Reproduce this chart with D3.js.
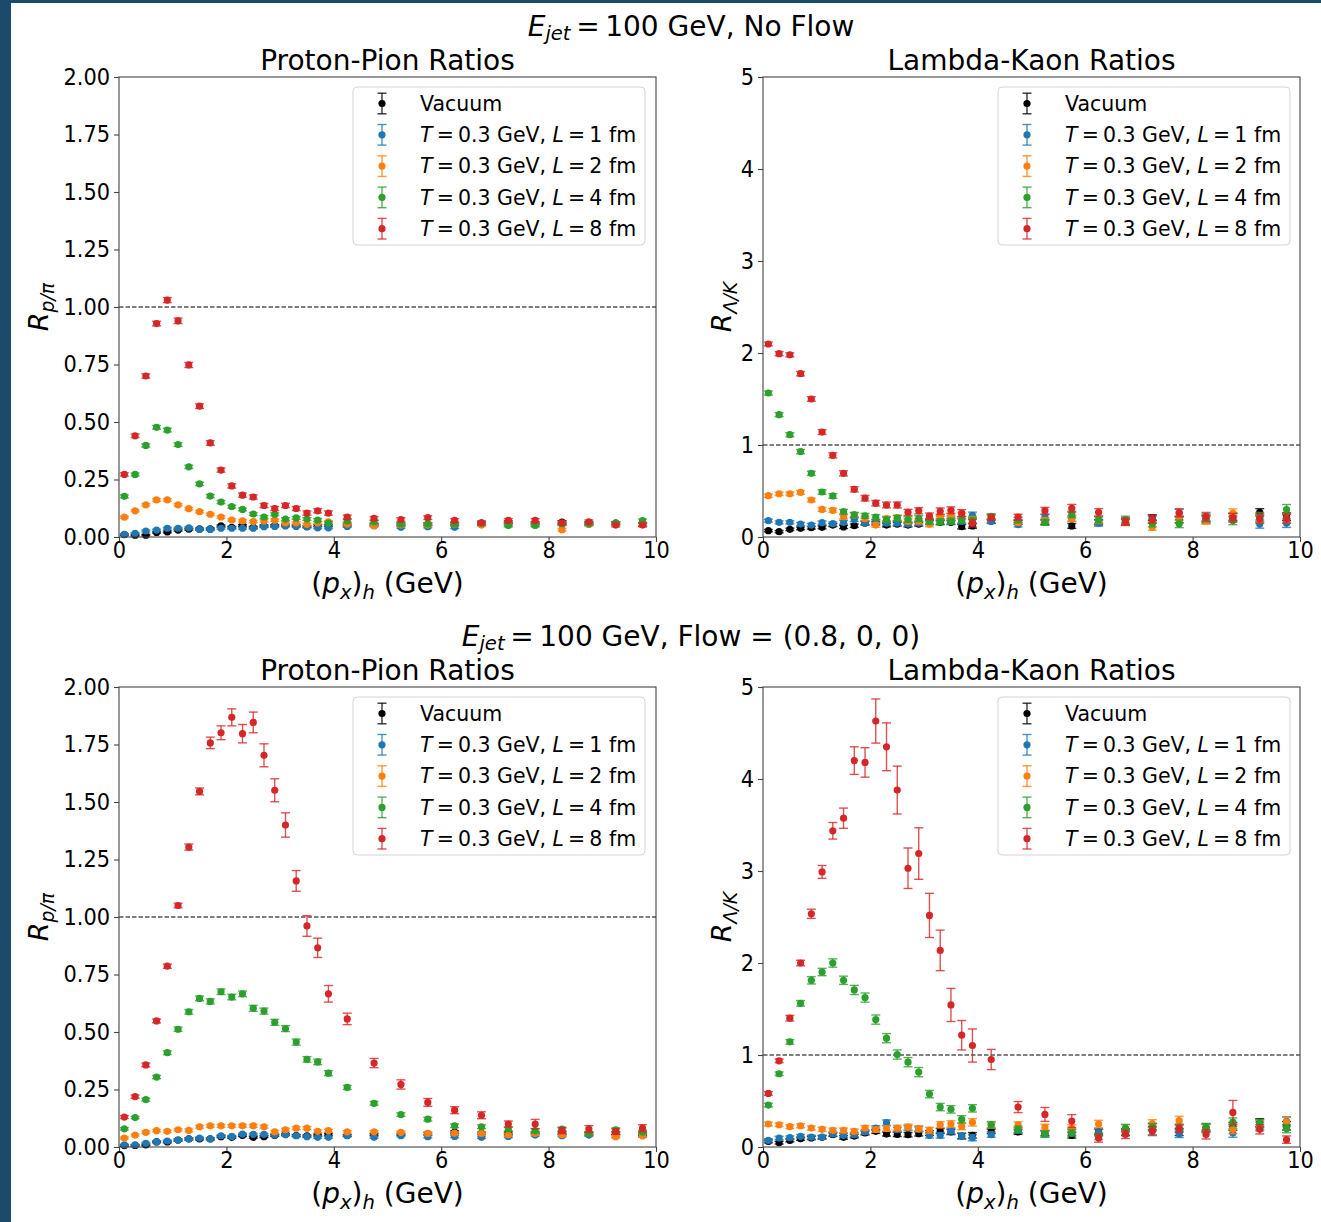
<!DOCTYPE html>
<html>
<head>
<meta charset="utf-8">
<script src="https://cdn.jsdelivr.net/npm/d3@7"></script>
<style>
  body { margin: 0; background: #fff; }
  svg { display: block; }
  text { font-family: "DejaVu Sans", sans-serif; fill: #000; }
</style>
</head>
<body>
<svg id="fig" width="1321" height="1222"></svg>
<script>
// ---------------------------------------------------------------------------
// Hadron momentum bins (GeV): 0.2 GeV wide below 4 GeV, 0.5 GeV wide above
// ---------------------------------------------------------------------------
const pxBins = [0.1,0.3,0.5,0.7,0.9,1.1,1.3,1.5,1.7,1.9,2.1,2.3,2.5,2.7,2.9,3.1,3.3,3.5,3.7,3.9,
                4.25,4.75,5.25,5.75,6.25,6.75,7.25,7.75,8.25,8.75,9.25,9.75];

// Medium settings for the legend
const mediumTemp = 0.3;            // GeV
const mediumLengths = [1, 2, 4, 8]; // fm

const xTicks = [0, 2, 4, 6, 8, 10];
const ppTicks = [0, 0.25, 0.5, 0.75, 1.0, 1.25, 1.5, 1.75, 2.0];
const lkTicks = [0, 1, 2, 3, 4, 5];

// ---------------- Proton/pion ratio, no flow ----------------
const ppNoFlowVac   = [0.010,0.008,0.008,0.020,0.022,0.030,0.034,0.035,0.035,0.048,0.042,0.050,0.042,0.048,0.050,0.052,0.050,0.045,0.050,0.050,0.052,0.055,0.055,0.055,0.058,0.060,0.065,0.060,0.065,0.060,0.060,0.055];
const ppNoFlowL1    = [0.012,0.016,0.026,0.030,0.038,0.038,0.040,0.033,0.033,0.038,0.038,0.038,0.038,0.045,0.046,0.048,0.046,0.045,0.040,0.040,0.046,0.049,0.042,0.045,0.042,0.055,0.052,0.052,0.055,0.055,0.060,0.055];
const ppNoFlowL2    = [0.086,0.114,0.140,0.161,0.161,0.140,0.123,0.110,0.099,0.087,0.074,0.070,0.067,0.070,0.073,0.061,0.061,0.055,0.061,0.066,0.056,0.049,0.052,0.052,0.055,0.052,0.058,0.058,0.032,0.055,0.058,0.055];
const ppNoFlowL4    = [0.177,0.272,0.398,0.477,0.465,0.402,0.305,0.231,0.178,0.152,0.132,0.120,0.100,0.087,0.099,0.078,0.083,0.078,0.074,0.060,0.070,0.066,0.057,0.057,0.057,0.060,0.050,0.050,0.058,0.058,0.060,0.071];
const ppNoFlowL8    = [0.272,0.440,0.700,0.928,1.030,0.940,0.748,0.569,0.409,0.291,0.222,0.182,0.174,0.137,0.124,0.137,0.124,0.104,0.114,0.104,0.087,0.081,0.076,0.084,0.072,0.062,0.072,0.072,0.062,0.066,0.052,0.052];
const ppNoFlowVacErr = [0.003,0.003,0.003,0.003,0.004,0.004,0.004,0.004,0.004,0.004,0.004,0.004,0.004,0.004,0.004,0.004,0.004,0.004,0.004,0.004,0.004,0.004,0.004,0.005,0.005,0.005,0.005,0.005,0.006,0.006,0.006,0.006];
const ppNoFlowL1Err  = [0.003,0.003,0.004,0.004,0.004,0.004,0.004,0.004,0.004,0.004,0.004,0.004,0.004,0.004,0.004,0.004,0.004,0.004,0.004,0.004,0.004,0.004,0.004,0.005,0.005,0.005,0.005,0.005,0.005,0.006,0.006,0.006];
const ppNoFlowL2Err  = [0.004,0.004,0.005,0.005,0.005,0.005,0.005,0.005,0.005,0.005,0.005,0.005,0.005,0.005,0.005,0.005,0.005,0.005,0.005,0.005,0.005,0.005,0.005,0.005,0.005,0.005,0.006,0.006,0.006,0.006,0.006,0.006];
const ppNoFlowL4Err  = [0.006,0.006,0.007,0.008,0.008,0.008,0.007,0.007,0.007,0.007,0.006,0.006,0.006,0.006,0.006,0.006,0.006,0.006,0.006,0.006,0.006,0.006,0.006,0.006,0.006,0.006,0.006,0.006,0.006,0.006,0.007,0.007];
const ppNoFlowL8Err  = [0.007,0.008,0.009,0.010,0.011,0.012,0.011,0.010,0.010,0.009,0.009,0.009,0.009,0.009,0.009,0.009,0.009,0.009,0.009,0.009,0.008,0.008,0.008,0.008,0.008,0.008,0.008,0.008,0.008,0.008,0.008,0.008];

// ---------------- Lambda/kaon ratio, no flow ----------------
const lkNoFlowVac   = [0.069,0.058,0.083,0.094,0.101,0.105,0.130,0.109,0.123,0.150,0.150,0.130,0.140,0.130,0.140,0.160,0.160,0.160,0.112,0.120,0.170,0.160,0.160,0.120,0.160,0.160,0.210,0.190,0.200,0.220,0.268,0.220];
const lkNoFlowL1    = [0.177,0.159,0.159,0.141,0.130,0.156,0.145,0.160,0.188,0.156,0.170,0.150,0.150,0.140,0.150,0.160,0.200,0.200,0.170,0.235,0.170,0.135,0.215,0.200,0.150,0.170,0.190,0.260,0.190,0.210,0.140,0.150];
const lkNoFlowL2    = [0.449,0.470,0.470,0.485,0.402,0.300,0.290,0.220,0.240,0.200,0.130,0.200,0.210,0.170,0.170,0.140,0.220,0.230,0.230,0.190,0.215,0.160,0.180,0.200,0.180,0.160,0.110,0.190,0.180,0.260,0.200,0.200];
const lkNoFlowL4    = [1.565,1.330,1.112,0.928,0.692,0.489,0.446,0.275,0.242,0.230,0.215,0.187,0.205,0.190,0.200,0.170,0.165,0.170,0.188,0.178,0.225,0.185,0.160,0.245,0.188,0.188,0.150,0.144,0.210,0.180,0.217,0.298];
const lkNoFlowL8    = [2.098,1.993,1.980,1.775,1.500,1.141,0.888,0.692,0.518,0.422,0.368,0.348,0.348,0.268,0.285,0.226,0.280,0.290,0.259,0.150,0.210,0.215,0.286,0.312,0.268,0.167,0.196,0.263,0.221,0.210,0.200,0.200];
const lkNoFlowVacErr = [0.012,0.012,0.013,0.014,0.015,0.016,0.017,0.017,0.018,0.019,0.019,0.020,0.020,0.021,0.021,0.022,0.023,0.023,0.024,0.025,0.020,0.022,0.024,0.026,0.028,0.030,0.032,0.034,0.036,0.038,0.040,0.042];
const lkNoFlowL1Err  = [0.015,0.015,0.016,0.017,0.018,0.018,0.019,0.020,0.020,0.021,0.022,0.022,0.023,0.024,0.024,0.025,0.026,0.027,0.028,0.035,0.024,0.026,0.028,0.030,0.032,0.034,0.036,0.040,0.040,0.042,0.044,0.046];
const lkNoFlowL2Err  = [0.018,0.018,0.019,0.020,0.020,0.021,0.022,0.022,0.023,0.024,0.024,0.025,0.026,0.027,0.028,0.029,0.030,0.031,0.032,0.033,0.026,0.028,0.030,0.032,0.034,0.036,0.038,0.040,0.042,0.045,0.046,0.048];
const lkNoFlowL4Err  = [0.022,0.022,0.022,0.023,0.023,0.024,0.025,0.025,0.026,0.027,0.028,0.028,0.029,0.030,0.031,0.032,0.033,0.034,0.035,0.036,0.028,0.030,0.032,0.035,0.036,0.038,0.040,0.042,0.044,0.046,0.050,0.055];
const lkNoFlowL8Err  = [0.020,0.022,0.022,0.024,0.025,0.026,0.027,0.028,0.028,0.030,0.030,0.031,0.032,0.033,0.034,0.035,0.036,0.037,0.038,0.040,0.030,0.032,0.036,0.042,0.040,0.040,0.044,0.045,0.046,0.048,0.050,0.050];

// ---------------- Proton/pion ratio, flow = (0.8, 0, 0) ----------------
const ppFlowVac   = [0.006,0.007,0.009,0.022,0.022,0.030,0.035,0.035,0.035,0.045,0.042,0.050,0.042,0.045,0.050,0.055,0.050,0.048,0.052,0.055,0.050,0.055,0.055,0.058,0.065,0.060,0.060,0.062,0.060,0.058,0.060,0.055];
const ppFlowL1    = [0.009,0.009,0.016,0.023,0.026,0.030,0.035,0.039,0.035,0.049,0.046,0.056,0.055,0.055,0.052,0.053,0.049,0.045,0.042,0.042,0.049,0.042,0.049,0.045,0.046,0.042,0.046,0.052,0.049,0.052,0.049,0.049];
const ppFlowL2    = [0.039,0.052,0.064,0.071,0.068,0.075,0.072,0.088,0.092,0.092,0.092,0.092,0.092,0.088,0.066,0.075,0.082,0.082,0.068,0.071,0.066,0.066,0.064,0.059,0.060,0.059,0.053,0.059,0.053,0.059,0.045,0.049];
const ppFlowL4    = [0.079,0.128,0.206,0.304,0.410,0.512,0.588,0.646,0.633,0.675,0.652,0.666,0.603,0.591,0.542,0.515,0.456,0.381,0.370,0.321,0.259,0.190,0.141,0.121,0.092,0.088,0.078,0.071,0.078,0.059,0.075,0.065];
const ppFlowL8    = [0.130,0.219,0.357,0.548,0.786,1.050,1.304,1.546,1.757,1.801,1.868,1.797,1.846,1.703,1.551,1.400,1.157,0.961,0.866,0.666,0.557,0.365,0.272,0.194,0.160,0.138,0.100,0.100,0.071,0.078,0.067,0.082];
const ppFlowVacErr = [0.003,0.003,0.003,0.003,0.004,0.004,0.004,0.004,0.004,0.004,0.004,0.004,0.004,0.004,0.004,0.004,0.004,0.004,0.004,0.004,0.004,0.004,0.004,0.005,0.005,0.005,0.005,0.005,0.006,0.006,0.006,0.006];
const ppFlowL1Err  = [0.003,0.003,0.004,0.004,0.004,0.004,0.004,0.004,0.004,0.004,0.004,0.004,0.004,0.004,0.004,0.004,0.004,0.004,0.004,0.004,0.004,0.004,0.004,0.005,0.005,0.005,0.005,0.005,0.005,0.006,0.006,0.006];
const ppFlowL2Err  = [0.004,0.004,0.005,0.005,0.005,0.005,0.006,0.006,0.006,0.006,0.006,0.006,0.006,0.006,0.006,0.006,0.006,0.006,0.006,0.006,0.005,0.005,0.005,0.005,0.005,0.005,0.006,0.006,0.006,0.006,0.006,0.006];
const ppFlowL4Err  = [0.005,0.005,0.006,0.007,0.008,0.009,0.010,0.010,0.011,0.012,0.012,0.012,0.013,0.013,0.013,0.013,0.013,0.012,0.012,0.011,0.009,0.008,0.008,0.008,0.008,0.008,0.008,0.008,0.008,0.008,0.008,0.008];
const ppFlowL8Err  = [0.006,0.007,0.008,0.008,0.009,0.010,0.013,0.015,0.025,0.030,0.037,0.040,0.045,0.050,0.050,0.053,0.045,0.045,0.042,0.036,0.025,0.020,0.020,0.017,0.015,0.015,0.013,0.020,0.012,0.015,0.012,0.015];

// ---------------- Lambda/kaon ratio, flow = (0.8, 0, 0) ----------------
const lkFlowVac   = [0.061,0.047,0.072,0.090,0.098,0.105,0.134,0.105,0.119,0.152,0.170,0.141,0.137,0.134,0.145,0.152,0.174,0.163,0.119,0.127,0.170,0.163,0.152,0.127,0.163,0.163,0.221,0.163,0.206,0.224,0.264,0.231];
const lkFlowL1    = [0.072,0.098,0.101,0.116,0.108,0.108,0.141,0.127,0.134,0.163,0.206,0.264,0.188,0.206,0.192,0.127,0.127,0.174,0.119,0.101,0.134,0.181,0.141,0.163,0.156,0.160,0.174,0.145,0.206,0.152,0.224,0.278];
const lkFlowL2    = [0.250,0.242,0.221,0.231,0.206,0.192,0.181,0.181,0.170,0.206,0.188,0.200,0.206,0.217,0.200,0.181,0.242,0.250,0.224,0.268,0.235,0.242,0.213,0.206,0.250,0.200,0.253,0.286,0.200,0.192,0.239,0.271];
const lkFlowL4    = [0.456,0.796,1.143,1.562,1.812,1.902,2.000,1.812,1.707,1.624,1.385,1.183,1.005,0.922,0.814,0.575,0.434,0.409,0.300,0.420,0.242,0.192,0.141,0.152,0.116,0.206,0.213,0.210,0.217,0.271,0.253,0.200];
const lkFlowL8    = [0.582,0.937,1.400,2.000,2.535,2.990,3.437,3.574,4.200,4.180,4.630,4.350,3.880,3.030,3.190,2.517,2.137,1.544,1.215,1.103,0.951,0.434,0.354,0.282,0.098,0.137,0.174,0.200,0.137,0.376,0.192,0.080];
const lkFlowVacErr = [0.015,0.015,0.016,0.017,0.018,0.018,0.019,0.020,0.020,0.021,0.022,0.022,0.023,0.024,0.025,0.026,0.027,0.028,0.029,0.030,0.024,0.026,0.028,0.030,0.032,0.034,0.036,0.038,0.040,0.042,0.044,0.046];
const lkFlowL1Err  = [0.018,0.018,0.019,0.020,0.020,0.021,0.022,0.022,0.023,0.024,0.025,0.030,0.026,0.027,0.028,0.029,0.030,0.031,0.032,0.034,0.028,0.030,0.032,0.034,0.036,0.038,0.040,0.042,0.044,0.046,0.048,0.050];
const lkFlowL2Err  = [0.020,0.020,0.021,0.022,0.022,0.023,0.024,0.025,0.026,0.027,0.028,0.029,0.030,0.031,0.032,0.033,0.034,0.035,0.036,0.040,0.030,0.032,0.034,0.036,0.040,0.042,0.044,0.048,0.046,0.048,0.050,0.052];
const lkFlowL4Err  = [0.020,0.020,0.025,0.030,0.040,0.040,0.045,0.045,0.050,0.050,0.050,0.050,0.050,0.050,0.050,0.040,0.040,0.040,0.040,0.040,0.035,0.035,0.035,0.035,0.035,0.040,0.040,0.040,0.040,0.045,0.045,0.045];
const lkFlowL8Err  = [0.020,0.020,0.030,0.030,0.050,0.070,0.090,0.110,0.150,0.160,0.240,0.260,0.260,0.220,0.280,0.240,0.220,0.180,0.160,0.180,0.110,0.060,0.075,0.070,0.045,0.045,0.050,0.040,0.050,0.130,0.050,0.040];

// ---------------------------------------------------------------------------
// Styling and layout
// ---------------------------------------------------------------------------
const palette = ["#000000", "#1f77b4", "#ff7f0e", "#2ca02c", "#d62728"];
const FONT = '"DejaVu Sans", sans-serif';
const W = 537, H = 460;
const COL_LEFT = [119, 763];
const ROW_TOP = [77, 687];
const TICK_FONT = 23, TICK_SQUEEZE = 0.91;
const THIN = "\u2009";   // narrow spacing around "=" as in math typesetting

const svg = d3.select("#fig");
svg.append("rect").attr("width", 1321).attr("height", 1222).attr("fill", "#fff");
// dark frame strips along the top and left edges
svg.append("rect").attr("x", 0).attr("y", 0).attr("width", 1321).attr("height", 3).attr("fill", "#1b4a6b");
svg.append("rect").attr("x", 0).attr("y", 0).attr("width", 11).attr("height", 1222).attr("fill", "#1b4a6b");

// Rich text helper: parts = [{t, it, sub}]
function richText(sel, parts, size, subShift = 0.22) {
  let shifted = false;
  const shift = size * subShift;
  parts.forEach(p => {
    const ts = sel.append("tspan").text(p.t);
    if (p.it) ts.attr("font-style", "italic");
    if (p.sub) {
      ts.attr("font-size", size * 0.7);
      if (!shifted) { ts.attr("dy", shift); shifted = true; }
    } else {
      ts.attr("font-size", size);
      if (shifted) { ts.attr("dy", -shift); shifted = false; }
    }
  });
  return sel;
}

function legendParts(i) {
  if (i === 0) return [{ t: "Vacuum" }];
  return [
    { t: "T", it: true }, { t: THIN + "=" + THIN + mediumTemp + " GeV, " },
    { t: "L", it: true }, { t: THIN + "=" + THIN + mediumLengths[i - 1] + " fm" }
  ];
}

const xLabelParts = [{ t: "(" }, { t: "p", it: true }, { t: "x", it: true, sub: true },
                     { t: ")" }, { t: "h", it: true, sub: true }, { t: " (GeV)" }];

function drawPanel(cfg) {
  const g = svg.append("g");
  const x = d3.scaleLinear().domain([0, 10]).range([cfg.left, cfg.left + W]);
  const y = d3.scaleLinear().domain([0, cfg.yMax]).range([cfg.top + H, cfg.top]);

  // axes
  const xAxis = d3.axisBottom(x).tickValues(xTicks).tickSize(5).tickPadding(0).tickFormat(d3.format("d"));
  const yAxis = d3.axisLeft(y).tickValues(cfg.yTicks).tickSize(5).tickPadding(4).tickFormat(cfg.fmt);
  const gx = g.append("g").attr("transform", `translate(0,${cfg.top + H})`).call(xAxis);
  const gy = g.append("g").attr("transform", `translate(${cfg.left},0)`).call(yAxis);
  [gx, gy].forEach(a => {
    a.select(".domain").remove();
    a.selectAll("line").attr("stroke", "#444").attr("stroke-width", 1.1);
    a.selectAll("text").attr("font-family", FONT).attr("font-size", TICK_FONT).attr("fill", "#000");
  });
  // slightly narrow tick numerals
  gx.selectAll("text").attr("transform", `scale(${TICK_SQUEEZE},1)`);
  gy.selectAll("text").attr("x", 0).attr("transform", `translate(-9,0) scale(${TICK_SQUEEZE},1)`);

  // reference line at ratio = 1
  g.append("line")
    .attr("x1", x(0)).attr("x2", x(10)).attr("y1", y(1)).attr("y2", y(1))
    .attr("stroke", "#000").attr("stroke-width", 1.1).attr("stroke-dasharray", "4.5,2");

  // data: error bars then markers, series in order
  const plot = g.append("g");
  cfg.series.forEach((s, si) => {
    const col = palette[si];
    const sg = plot.append("g");
    const pts = pxBins.map((px, i) => ({ px, v: s.vals[i], e: s.errs[i] }));
    sg.selectAll("line.eb").data(pts).join("line").attr("class", "eb")
      .attr("x1", d => x(d.px)).attr("x2", d => x(d.px))
      .attr("y1", d => y(d.v - d.e)).attr("y2", d => y(d.v + d.e))
      .attr("stroke", col).attr("stroke-opacity", 0.8).attr("stroke-width", 1.4);
    ["lo", "hi"].forEach(k => {
      sg.selectAll("line.cap" + k).data(pts).join("line").attr("class", "cap" + k)
        .attr("x1", d => x(d.px) - 4.5).attr("x2", d => x(d.px) + 4.5)
        .attr("y1", d => y(k === "lo" ? d.v - d.e : d.v + d.e))
        .attr("y2", d => y(k === "lo" ? d.v - d.e : d.v + d.e))
        .attr("stroke", col).attr("stroke-opacity", 0.8).attr("stroke-width", 1.4);
    });
    sg.selectAll("circle").data(pts).join("circle")
      .attr("cx", d => x(d.px)).attr("cy", d => y(d.v)).attr("r", 3.6).attr("fill", col);
  });

  // frame
  g.append("rect").attr("x", cfg.left).attr("y", cfg.top).attr("width", W).attr("height", H)
    .attr("fill", "none").attr("stroke", "#444").attr("stroke-width", 1.1);

  // title
  g.append("text").attr("x", cfg.left + W / 2).attr("y", cfg.top - 7)
    .attr("text-anchor", "middle").attr("font-size", 28).text(cfg.title);

  // x label
  richText(g.append("text").attr("x", cfg.left + W / 2).attr("y", cfg.top + H + 56)
    .attr("text-anchor", "middle"), xLabelParts, 28);

  // y label
  richText(g.append("text")
    .attr("transform", `translate(${cfg.yLabelX},${cfg.top + H / 2}) rotate(-90)`)
    .attr("text-anchor", "middle"), [{ t: "R", it: true }, { t: cfg.ySub, it: true, sub: true }], 27);

  // legend
  const lx = cfg.legendLeft, ly = cfg.top + 10, lw = 292, lh = 158;
  const lg = g.append("g");
  lg.append("rect").attr("x", lx).attr("y", ly).attr("width", lw).attr("height", lh)
    .attr("rx", 4).attr("fill", "#fff").attr("fill-opacity", 0.8)
    .attr("stroke", "#d5d5d5").attr("stroke-width", 1);
  palette.forEach((col, i) => {
    const cy = ly + 16.5 + i * 31.3;
    const mx = lx + 29;
    lg.append("line").attr("x1", mx).attr("x2", mx).attr("y1", cy - 10.3).attr("y2", cy + 10.3)
      .attr("stroke", col).attr("stroke-opacity", 0.8).attr("stroke-width", 1.4);
    [-10.3, 10.3].forEach(o => lg.append("line").attr("x1", mx - 4.5).attr("x2", mx + 4.5)
      .attr("y1", cy + o).attr("y2", cy + o).attr("stroke", col).attr("stroke-opacity", 0.8).attr("stroke-width", 1.4));
    lg.append("circle").attr("cx", mx).attr("cy", cy).attr("r", 3.6).attr("fill", col);
    richText(lg.append("text").attr("x", lx + 67).attr("y", cy + 7.2), legendParts(i), 20.5);
  });
}

const fmt2 = d3.format(".2f");
const fmtInt = d3.format("d");

const panels = [
  { left: COL_LEFT[0], top: ROW_TOP[0], yMax: 2, yTicks: ppTicks, fmt: fmt2, title: "Proton-Pion Ratios",
    ySub: "p/π", yLabelX: 48, legendLeft: 353,
    series: [
      { vals: ppNoFlowVac, errs: ppNoFlowVacErr }, { vals: ppNoFlowL1, errs: ppNoFlowL1Err },
      { vals: ppNoFlowL2, errs: ppNoFlowL2Err }, { vals: ppNoFlowL4, errs: ppNoFlowL4Err },
      { vals: ppNoFlowL8, errs: ppNoFlowL8Err }] },
  { left: COL_LEFT[1], top: ROW_TOP[0], yMax: 5, yTicks: lkTicks, fmt: fmtInt, title: "Lambda-Kaon Ratios",
    ySub: "Λ/K", yLabelX: 731, legendLeft: 998,
    series: [
      { vals: lkNoFlowVac, errs: lkNoFlowVacErr }, { vals: lkNoFlowL1, errs: lkNoFlowL1Err },
      { vals: lkNoFlowL2, errs: lkNoFlowL2Err }, { vals: lkNoFlowL4, errs: lkNoFlowL4Err },
      { vals: lkNoFlowL8, errs: lkNoFlowL8Err }] },
  { left: COL_LEFT[0], top: ROW_TOP[1], yMax: 2, yTicks: ppTicks, fmt: fmt2, title: "Proton-Pion Ratios",
    ySub: "p/π", yLabelX: 48, legendLeft: 353,
    series: [
      { vals: ppFlowVac, errs: ppFlowVacErr }, { vals: ppFlowL1, errs: ppFlowL1Err },
      { vals: ppFlowL2, errs: ppFlowL2Err }, { vals: ppFlowL4, errs: ppFlowL4Err },
      { vals: ppFlowL8, errs: ppFlowL8Err }] },
  { left: COL_LEFT[1], top: ROW_TOP[1], yMax: 5, yTicks: lkTicks, fmt: fmtInt, title: "Lambda-Kaon Ratios",
    ySub: "Λ/K", yLabelX: 731, legendLeft: 998,
    series: [
      { vals: lkFlowVac, errs: lkFlowVacErr }, { vals: lkFlowL1, errs: lkFlowL1Err },
      { vals: lkFlowL2, errs: lkFlowL2Err }, { vals: lkFlowL4, errs: lkFlowL4Err },
      { vals: lkFlowL8, errs: lkFlowL8Err }] }
];
panels.forEach(drawPanel);

// row headings
const rowHeadings = ["No Flow", "Flow = (0.8, 0, 0)"];
rowHeadings.forEach((h, r) => {
  richText(svg.append("text").attr("x", 691).attr("y", ROW_TOP[r] - 41).attr("text-anchor", "middle"),
    [{ t: "E", it: true }, { t: "jet", it: true, sub: true }, { t: THIN + "=" + THIN + "100 GeV, " + h }], 28, 0.15);
});
</script>
</body>
</html>
